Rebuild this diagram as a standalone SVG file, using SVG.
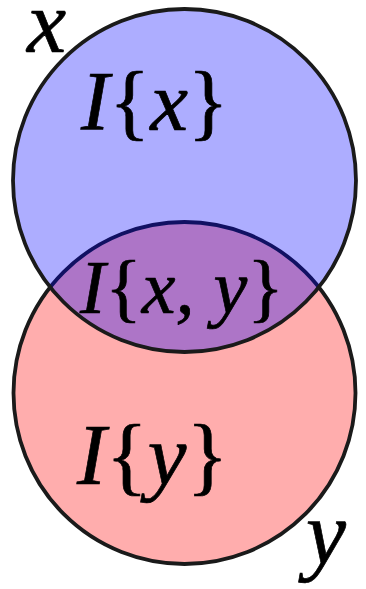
<svg xmlns="http://www.w3.org/2000/svg" width="366" height="589" viewBox="0 0 366 589">
<style>
.c{stroke:#1a1a1a;stroke-width:3.8;fill-opacity:0.32}
.t{font-family:"Liberation Serif","DejaVu Serif",serif;font-style:italic;fill:#000;stroke:#000;stroke-width:0.7}
.u{font-style:normal}
</style>
<rect width="366" height="589" fill="#fff"/>
<g id="circle-y"><circle class="c" cx="184.5" cy="393" r="171" fill="#ff0000"/></g>
<g id="circle-x"><circle class="c" cx="184.5" cy="180.5" r="171.5" fill="#0000ff"/></g>
<g id="connectors"></g>
<g id="label-x"><text class="t" x="27" y="52" font-size="88">x</text></g>
<g id="label-y"><text class="t" x="306" y="564" font-size="90">y</text></g>
<g id="Ix"><text class="t" x="81" y="130" font-size="85">I<tspan class="u">{</tspan>x<tspan class="u">}</tspan></text></g>
<g id="Ixy"><text class="t" x="80" y="313" font-size="76">I<tspan class="u">{</tspan>x, y<tspan class="u">}</tspan></text></g>
<g id="Iy"><text class="t" x="77" y="484" font-size="87">I<tspan class="u">{</tspan>y<tspan class="u">}</tspan></text></g>
</svg>
